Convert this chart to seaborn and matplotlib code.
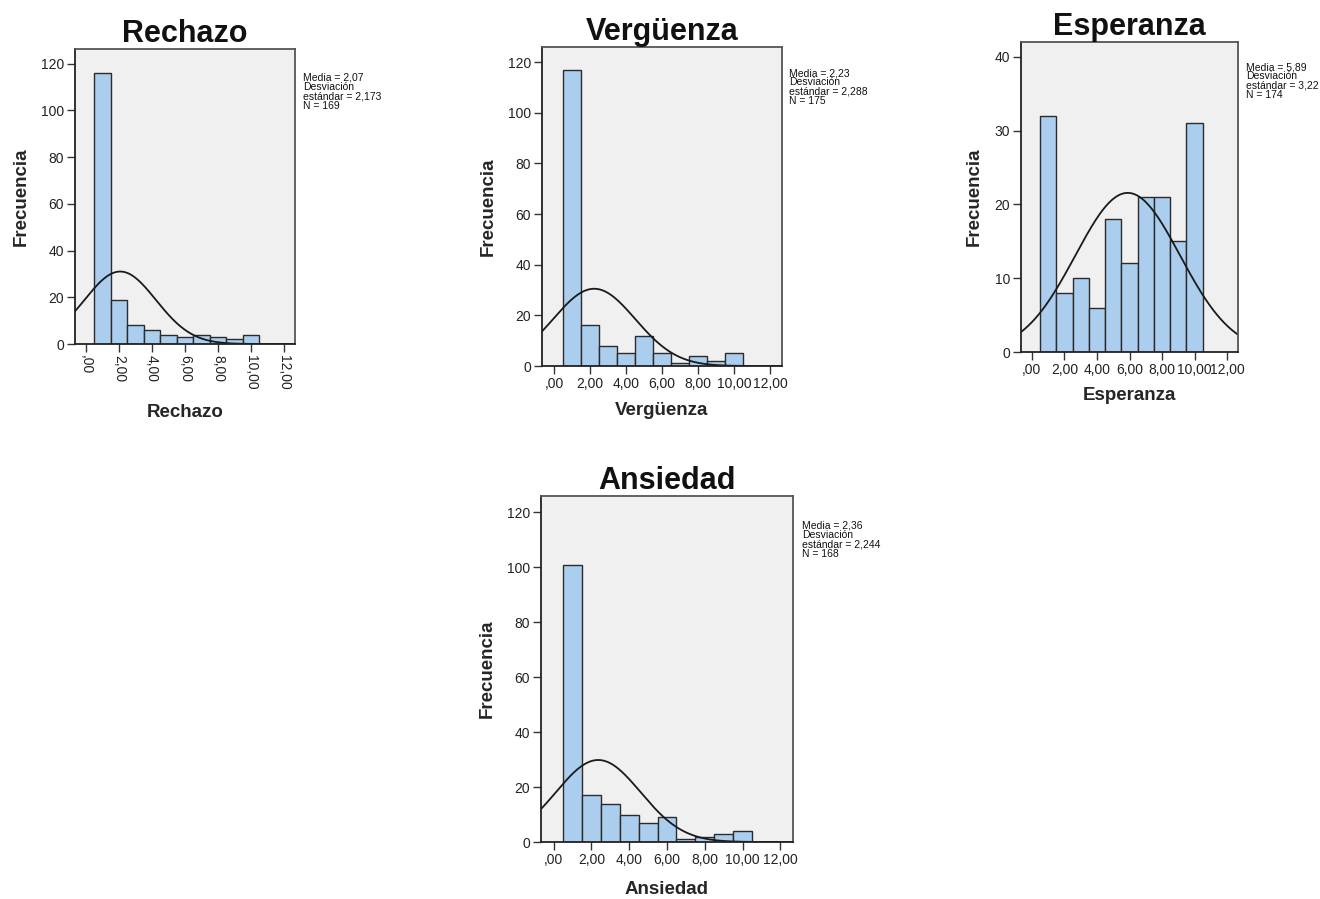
import numpy as np
import pandas as pd
import matplotlib
matplotlib.use("Agg")
import matplotlib.pyplot as plt
import seaborn as sns

sns.set_theme(style="white")
plt.rcParams['font.family'] = ['Liberation Sans', 'DejaVu Sans']

# ---- data ----
bin_centers = [1, 2, 3, 4, 5, 6, 7, 8, 9, 10]
rechazo = [116, 19, 8, 6, 4, 3, 4, 3, 2, 4]
verguenza = [117, 16, 8, 5, 12, 5, 1, 4, 2, 5]
esperanza = [32, 8, 10, 6, 18, 12, 21, 21, 15, 31]
ansiedad = [101, 17, 14, 10, 7, 9, 1, 2, 3, 4]

names = ["Rechazo", "Vergüenza", "Esperanza", "Ansiedad"]
means = [2.07, 2.23, 5.89, 2.36]
sds = [2.173, 2.288, 3.22, 2.244]
ns = [169, 175, 174, 168]
mean_lbl = ["2,07", "2,23", "5,89", "2,36"]
sd_lbl = ["2,173", "2,288", "3,22", "2,244"]
xtick_vals = [0, 2, 4, 6, 8, 10, 12]
xtick_lbls = [",00", "2,00", "4,00", "6,00", "8,00", "10,00", "12,00"]
ytick_sets = [[0, 20, 40, 60, 80, 100, 120], [0, 20, 40, 60, 80, 100, 120],
              [0, 10, 20, 30, 40], [0, 20, 40, 60, 80, 100, 120]]
ylims = [126.3, 126, 42, 126]

W, H = 1320, 899
fig = plt.figure(figsize=(W / 100, H / 100), dpi=100)
fig.patch.set_facecolor("white")

# axes boxes in pixels: left, right, top, bottom
boxes = [(75, 295, 49, 344), (542, 782, 47, 366), (1021, 1238, 42, 352), (541, 793, 496, 842)]
stat_pos = [(303, 73), (789, 68), (1246, 62), (802, 521)]
rot = [270, 0, 0, 0]
counts_all = [rechazo, verguenza, esperanza, ansiedad]
xlabelpads = [10, 8, 7, 10]

bar_color = "#abcdee"
edge_color = "#2b2b2b"

for i in range(4):
    l, r, t, b = boxes[i]
    ax = fig.add_axes([l / W, 1 - b / H, (r - l) / W, (b - t) / H])
    ax.set_facecolor("#f0f0f0")
    df = pd.DataFrame({"x": bin_centers, "n": counts_all[i]})
    sns.histplot(data=df, x="x", weights="n", bins=10, binrange=(0.5, 10.5),
                 color=bar_color, alpha=1, edgecolor=edge_color, linewidth=1.0, ax=ax)
    xlim = (-0.67, 12.67)
    xs = np.linspace(xlim[0], xlim[1], 300)
    ys = ns[i] * 1.0 / (sds[i] * np.sqrt(2 * np.pi)) * np.exp(-0.5 * ((xs - means[i]) / sds[i]) ** 2)
    sns.lineplot(x=xs, y=ys, color="#1a1a1a", linewidth=1.3, ax=ax)
    ax.set_xlim(*xlim)
    ax.set_ylim(0, ylims[i])
    ax.set_xticks(xtick_vals)
    ax.set_xticklabels(xtick_lbls, rotation=rot[i], fontsize=10,
                       va="top", ha="center")
    ax.set_yticks(ytick_sets[i])
    ax.set_yticklabels([str(v) for v in ytick_sets[i]], fontsize=10)
    ax.tick_params(axis="both", direction="out", length=6, width=1, color="#333333",
                   bottom=True, left=True, pad=2, labelcolor="#222222")
    for s in ax.spines.values():
        s.set_color("#555555")
        s.set_linewidth(1.3)
    ax.spines["left"].set_color("#222222")
    ax.spines["bottom"].set_color("#222222")
    ax.set_title(names[i], fontsize=22, fontweight="bold", pad=5, color="#111111")
    ax.set_xlabel(names[i], fontsize=13.5, fontweight="bold", labelpad=xlabelpads[i])
    ax.set_ylabel("Frecuencia", fontsize=13.5, fontweight="bold", labelpad=8)
    sx, sy = stat_pos[i]
    fig.text(sx / W, 1 - sy / H,
             f"Media = {mean_lbl[i]}\nDesviación\nestándar = {sd_lbl[i]}\nN = {ns[i]}",
             fontsize=7.5, va="top", ha="left", linespacing=0.9, color="#111111")

fig.savefig("out.png", dpi=100, facecolor="white")
